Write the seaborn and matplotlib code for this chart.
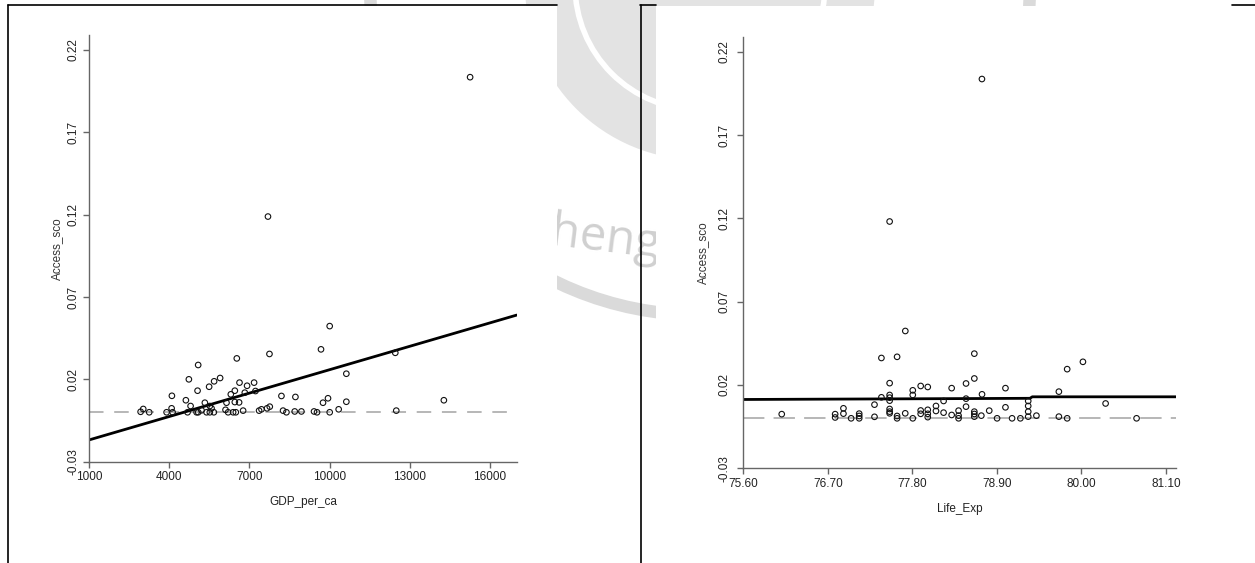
import matplotlib
matplotlib.use("Agg")
import matplotlib.pyplot as plt
from matplotlib.patches import Circle, Rectangle
import seaborn as sns

# GDP per capita vs access score (left panel)
gdp_per_ca = [15257, 7695, 10004, 9679, 12458, 7751, 6529, 5084, 10627, 5905,
              4736, 5681, 6630, 7176, 6914, 5494, 5061, 6455, 7228, 6828,
              6305, 4101, 8199, 8722, 9941, 4624, 14275, 10627, 5334, 6144,
              6455, 6615, 9754, 4800, 5520, 7762, 4090, 5584, 7661, 3029,
              10340, 7452, 5210, 6107, 6765, 7363, 12495, 8259, 2931, 3253,
              3903, 4127, 4687, 5024, 5084, 5397, 5520, 5670, 6205, 6391,
              6492, 8386, 8696, 8946, 9418, 9530, 10004]
access_gdp = [0.2034, 0.1188, 0.0523, 0.0382, 0.0361, 0.0354, 0.0327, 0.0287, 0.0234, 0.0208,
              0.0200, 0.0188, 0.0180, 0.0180, 0.0161, 0.0155, 0.0131, 0.0131, 0.0129, 0.0119,
              0.0109, 0.0100, 0.0099, 0.0093, 0.0085, 0.0073, 0.0073, 0.0064, 0.0058, 0.0058,
              0.0062, 0.0060, 0.0058, 0.0038, 0.0038, 0.0034, 0.0024, 0.0024, 0.0024, 0.0020,
              0.0018, 0.0018, 0.0012, 0.0015, 0.0010, 0.0010, 0.0010, 0.0010, 0.0003, 0.0,
              0.0, 0.0, 0.0, 0.0, 0.0, 0.0, 0.0, 0.0, 0.0, 0.0,
              0.0, 0.0, 0.0005, 0.0005, 0.0005, 0.0, 0.0]
gdp_fit_x = [1000, 17000]
gdp_fit_y = [-0.0168, 0.059]

# life expectancy vs access score (right panel)
life_exp = [78.705, 77.504, 77.708, 78.606, 77.397, 77.601, 80.019, 79.814, 77.504, 78.606,
            78.498, 77.908, 78.000, 77.805, 78.311, 79.011, 79.706, 78.706, 77.805, 77.504,
            77.397, 77.504, 78.498, 78.206, 79.307, 80.314, 77.307, 77.504, 78.498, 79.307,
            79.011, 78.107, 76.903, 77.504, 77.908, 78.000, 78.107, 78.401, 78.606, 78.800,
            79.307, 77.504, 77.504, 77.707, 78.206, 76.100, 76.795, 76.903, 77.108, 77.908,
            78.000, 78.606, 78.311, 78.401, 78.697, 79.414, 77.108, 77.601, 78.606, 79.307,
            79.706, 77.307, 76.795, 78.000, 77.003, 77.108, 77.601, 77.805, 78.401, 78.902,
            79.097, 79.205, 79.814, 80.717]
access_life = [0.2036, 0.1181, 0.0524, 0.0388, 0.0362, 0.0369, 0.0339, 0.0295, 0.0211, 0.0239,
               0.0209, 0.0194, 0.0188, 0.0168, 0.0181, 0.0181, 0.0160, 0.0144, 0.0140, 0.0140,
               0.0126, 0.0124, 0.0118, 0.0104, 0.0104, 0.0089, 0.0082, 0.0106, 0.0070, 0.0074,
               0.0066, 0.0074, 0.0060, 0.0056, 0.0047, 0.0051, 0.0044, 0.0046, 0.0040, 0.0046,
               0.0040, 0.0040, 0.0030, 0.0030, 0.0034, 0.0025, 0.0025, 0.0028, 0.0028, 0.0027,
               0.0027, 0.0026, 0.0020, 0.0016, 0.0016, 0.0016, 0.0014, 0.0014, 0.0010, 0.0010,
               0.0010, 0.0009, 0.0005, 0.0007, 0.0, 0.0, 0.0, 0.0, 0.0, 0.0,
               0.0, 0.0, 0.0, 0.0]
life_fit_x = [75.6, 79.33, 79.36, 81.23]
life_fit_y = [0.0113, 0.0120, 0.0129, 0.0129]

y_ticks = [-0.03, 0.02, 0.07, 0.12, 0.17, 0.22]
gdp_ticks = [1000, 4000, 7000, 10000, 13000, 16000]
life_ticks = [75.6, 76.7, 77.8, 78.9, 80.0, 81.1]

sns.set_style("ticks")
plt.rcParams["font.family"] = ["Liberation Sans", "DejaVu Sans"]

W, H = 1255, 563
fig = plt.figure(figsize=(W / 100, H / 100), dpi=100)


def box(x0, y0, x1, y1):
    return [x0 / W, 1 - y1 / H, (x1 - x0) / W, (y1 - y0) / H]


# page background: watermark strip, white chart images, table borders
bg = fig.add_axes([0, 0, 1, 1], zorder=0)
bg.set_xlim(0, W)
bg.set_ylim(H, 0)
bg.axis("off")
bg.add_patch(Circle((700, -15), 330, fill=False, ec="#dadada", lw=9, zorder=1))
bg.add_patch(Circle((700, -15), 175, fc="#e3e3e3", ec="none", zorder=1))
bg.add_patch(Circle((700, -15), 125, fill=False, ec="white", lw=4, zorder=1))
bg.text(548, 258, "heng", fontsize=34, color="#d0d0d0", rotation=-7, zorder=1,
        family=["Open Sans", "DejaVu Sans"])
bg.add_patch(Rectangle((9, 6), 548, H, fc="white", ec="none", zorder=2))
bg.add_patch(Rectangle((656, 6), W - 656, H, fc="white", ec="none", zorder=2))
for xs in ([8, 557], [640, 656], [1232, W]):
    bg.plot(xs, [5, 5], color="black", lw=1.2, zorder=3)
for xv in (8, 641):
    bg.plot([xv, xv], [5, H], color="black", lw=1.2, zorder=3)

ax1 = fig.add_axes(box(89, 35, 516.7, 461.7), zorder=2)
ax2 = fig.add_axes(box(743.3, 36.7, 1176, 468.3), zorder=2)

panels = [
    (ax1, gdp_per_ca, access_gdp, gdp_fit_x, gdp_fit_y, (1000, 17000), gdp_ticks,
     [str(t) for t in gdp_ticks], "GDP_per_ca", (9.5, 7), 4),
    (ax2, life_exp, access_life, life_fit_x, life_fit_y, (75.6, 81.23), life_ticks,
     ["%.2f" % t for t in life_ticks], "Life_Exp", (14, 6), 7),
]

for ax, xs, ys, fx, fy, xlim, xt, xtl, xlab, dash, ypad in panels:
    ax.set_facecolor("none")
    ax.axhline(0, color="#a3a3a3", lw=1.1, dashes=dash, zorder=1)
    sns.lineplot(x=fx, y=fy, ax=ax, color="black", linewidth=2.0,
                 estimator=None, sort=False, zorder=2)
    sns.scatterplot(x=xs, y=ys, ax=ax, s=16, marker="o", facecolor="none",
                    edgecolor="#111111", linewidth=0.8, zorder=3)
    ax.set_xlim(*xlim)
    ax.set_ylim(-0.03, 0.229)
    ax.set_xticks(xt)
    ax.set_xticklabels(xtl)
    ax.set_yticks(y_ticks)
    ax.set_yticklabels(["%.2f" % t for t in y_ticks])
    for s in ("top", "right"):
        ax.spines[s].set_visible(False)
    for s in ("left", "bottom"):
        ax.spines[s].set_color("#666666")
        ax.spines[s].set_linewidth(1.0)
    ax.tick_params(axis="both", direction="out", length=4, width=1, color="#666666",
                   labelsize=8.5, labelcolor="#222222")
    ax.tick_params(axis="x", pad=3)
    ax.tick_params(axis="y", pad=ypad - 1.5, labelrotation=90)
    for lab in ax.get_yticklabels():
        lab.set_va("center")
    ax.set_xlabel(xlab, fontsize=8.5, color="#222222", labelpad=9)
    ax.set_ylabel("Access_sco", fontsize=8.5, color="#333333", labelpad=ypad - 0.5)

fig.savefig("out.png", dpi=100)
